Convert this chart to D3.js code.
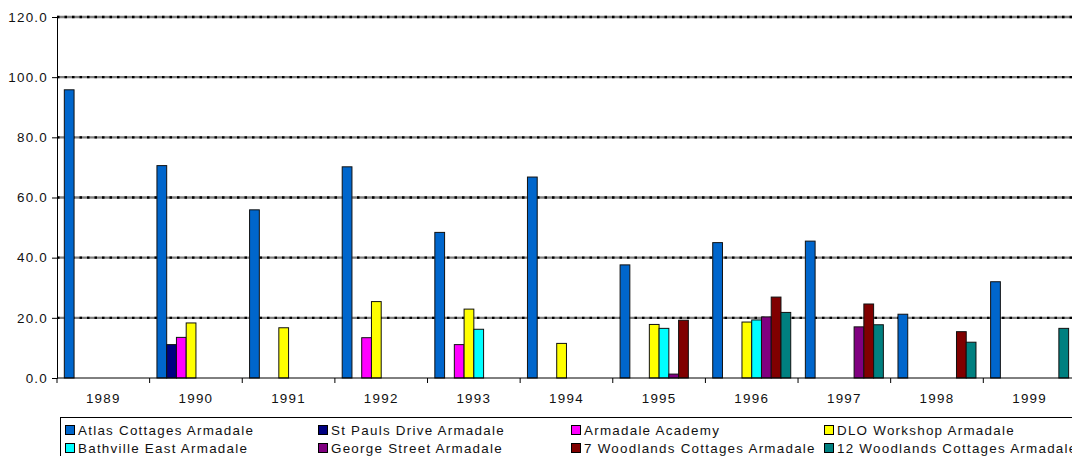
<!DOCTYPE html>
<html><head><meta charset="utf-8">
<script src="https://cdn.jsdelivr.net/npm/d3@7"></script>
<style>
body{margin:0;background:#fff;}
svg{display:block;font-family:"Liberation Sans",Arial,sans-serif;}
</style></head><body>
<svg id="chart" width="1072" height="456"></svg>
<script>
const years = ["1989","1990","1991","1992","1993","1994","1995","1996","1997","1998","1999"];
const seriesNames = ["Atlas Cottages Armadale","St Pauls Drive Armadale","Armadale Academy","DLO Workshop Armadale","Bathville East Armadale","George Street Armadale","7 Woodlands Cottages Armadale","12 Woodlands Cottages Armadale"];
const seriesColors = ["#0066CC","#000080","#FF00FF","#FFFF00","#00FFFF","#800080","#800000","#008080"];
const atlas      = [95.8,70.6,55.9,70.2,48.4,66.8,37.6,45.0,45.5,21.2,32.0];
const stPauls    = [null,11.1,null,null,null,null,null,null,null,null,null];
const academy    = [null,13.5,null,13.4,11.1,null,null,null,null,null,null];
const dlo        = [null,18.3,16.7,25.4,22.9,11.5,17.8,18.6,null,null,null];
const bathville  = [null,null,null,null,16.2,null,16.5,19.3,null,null,null];
const george     = [null,null,null,null,null,null,1.3,20.3,17.0,null,null];
const woodlands7 = [null,null,null,null,null,null,19.2,26.9,24.6,15.4,null];
const woodlands12= [null,null,null,null,null,null,null,21.8,17.7,11.9,16.5];
const yTicks = [0,20,40,60,80,100,120];
const seriesValues = [atlas,stPauls,academy,dlo,bathville,george,woodlands7,woodlands12];

(function(){
const svg = d3.select("#chart");
const mLeft = 57, mTop = 17, mBottom = 378, bandW = 92.63;
const mRight = mLeft + bandW*years.length;
const FS = 13.4, LS = "1.25px";

const x0 = d3.scaleBand().domain(years).range([mLeft,mRight]).paddingInner(0).paddingOuter(0);
const groupW = bandW*8/9.5;
const x1 = d3.scaleBand().domain(d3.range(8)).range([0,groupW]);
const y = d3.scaleLinear().domain([0,120]).range([mBottom,mTop]);

// gridlines
const grid = svg.append("g");
yTicks.filter(t=>t>0).forEach(t=>{
  grid.append("line").attr("x1",mLeft).attr("x2",mRight).attr("y1",y(t)).attr("y2",y(t))
    .attr("stroke","#808080").attr("stroke-width",2.4);
  grid.append("line").attr("x1",mLeft).attr("x2",mRight).attr("y1",y(t)).attr("y2",y(t))
    .attr("stroke","#000").attr("stroke-width",2.4).attr("stroke-dasharray","2.5,5");
});

// bars
const data = [];
years.forEach((yr,i)=>{
  seriesValues.forEach((arr,s)=>{
    if(arr[i]!=null) data.push({yr, s, v:arr[i]});
  });
});
svg.append("g").selectAll("rect").data(data).join("rect")
  .attr("x",d=>x0(d.yr)+(bandW-groupW)/2+x1(d.s))
  .attr("y",d=>y(d.v))
  .attr("width",x1.bandwidth())
  .attr("height",d=>y(0)-y(d.v))
  .attr("fill",d=>seriesColors[d.s])
  .attr("stroke","#111").attr("stroke-width",1);

// y axis
const yAxis = d3.axisLeft(y).tickValues(yTicks).tickFormat(d3.format(".1f")).tickSize(5).tickPadding(4);
const yg = svg.append("g").attr("transform",`translate(${mLeft},0)`).call(yAxis);
yg.select(".domain").attr("stroke","#000");
yg.selectAll(".tick line").attr("stroke","#000");
yg.selectAll("text").attr("font-size",FS).attr("letter-spacing",LS).attr("fill","#111")
  .attr("font-family","'Liberation Sans',Arial,sans-serif");

// x axis
const xg = svg.append("g").attr("transform",`translate(0,${mBottom})`);
xg.append("line").attr("x1",mLeft).attr("x2",mRight).attr("stroke","#000");
const tickPos = d3.range(years.length+1).map(i=>mLeft+i*bandW);
xg.selectAll("line.t").data(tickPos).join("line").attr("class","t")
  .attr("x1",d=>d).attr("x2",d=>d).attr("y1",0).attr("y2",5).attr("stroke","#000");
xg.selectAll("text").data(years).join("text")
  .attr("x",d=>x0(d)+bandW/2).attr("y",25).attr("text-anchor","middle")
  .attr("font-size",FS).attr("letter-spacing",LS).attr("fill","#111").text(d=>d);

// legend
const lg = svg.append("g");
lg.append("rect").attr("x",60.5).attr("y",417.5).attr("width",1030).attr("height",60)
  .attr("fill","#fff").attr("stroke","#000");
const colX = [65,318,571,824];
seriesNames.forEach((n,i)=>{
  const cx = colX[i%4], cy = i<4 ? 425 : 443;
  lg.append("rect").attr("x",cx+0.5).attr("y",cy+0.5).attr("width",9).attr("height",9)
    .attr("fill",seriesColors[i]).attr("stroke","#000");
  lg.append("text").attr("x",cx+13).attr("y",cy+10).attr("font-size",FS)
    .attr("letter-spacing",LS).attr("fill","#111").text(n);
});
})();
</script>
</body></html>
